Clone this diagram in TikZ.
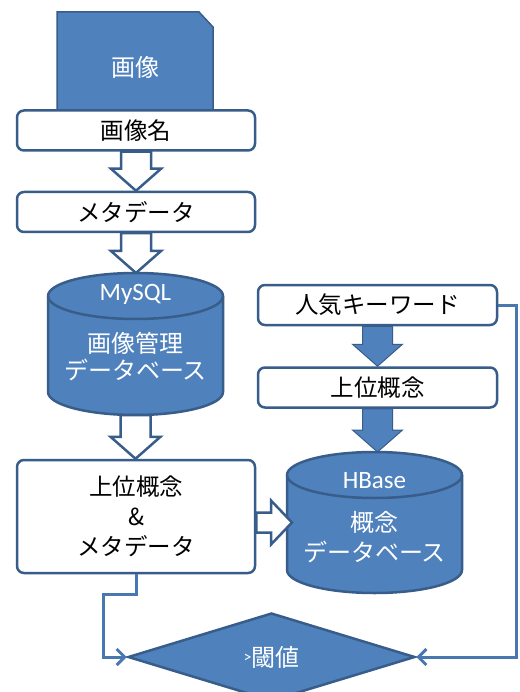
\documentclass[tikz,border=0pt]{standalone}
\usepackage{fontspec}
\setmainfont{Noto Sans CJK JP}
\newfontfamily\latinfont{Carlito}
\usetikzlibrary{shapes.geometric,calc,arrows.meta}

\definecolor{boxblue}{HTML}{4F81BD}
\definecolor{edgeblue}{HTML}{385D8A}

\tikzset{
    flow-box/.style = {draw=edgeblue, fill=white, line width=2.5pt, rectangle, rounded corners=7pt, minimum width=238pt, minimum height=40pt, inner sep=0pt, align=center, font=\fontsize{23.5}{30}\selectfont},
    white-text/.style = {text=white, align=center, font=\fontsize{24}{27}\selectfont},
    latin-text/.style = {text=white, font=\latinfont\fontsize{25}{25}\selectfont},
    db-body/.style = {fill=boxblue, draw=edgeblue, line width=2.5pt},
    db-edge/.style = {draw=edgeblue, line width=2.5pt},
    hollow-arrow/.style = {fill=white, draw=edgeblue, line width=2.5pt, line join=miter},
    solid-arrow/.style = {fill=boxblue, draw=edgeblue, line width=1pt, line join=miter},
    link-line/.style = {draw=boxblue!75!edgeblue, line width=3pt, -{Straight Barb[length=8pt,width=16pt]}},
}

% block arrow pointing down, from one anchor to another
\newcommand{\downblock}[3]{%
  \path[#1] let \p1=(#2), \p2=(#3) in
    (\x1-15pt,\y1) -- (\x1-15pt,\y2+22pt) -- (\x1-25pt,\y2+22pt) -- (\x1,\y2)
    -- (\x1+25pt,\y2+22pt) -- (\x1+15pt,\y2+22pt) -- (\x1+15pt,\y1) -- cycle;}
% block arrow pointing right
\newcommand{\rightblock}[3]{%
  \path[#1] let \p1=(#2), \p2=(#3) in
    (\x1,\y2+10pt) -- (\x2-21pt,\y2+10pt) -- (\x2-21pt,\y2+22pt) -- (\x2,\y2)
    -- (\x2-21pt,\y2-22pt) -- (\x2-21pt,\y2-10pt) -- (\x1,\y2-10pt) -- cycle;}
% database cylinder: name, centre x, top y, bottom y
\newcommand{\dbshape}[4]{%
  \path[db-body] (#2-87.5,#3+23) -- (#2-87.5,#4-23)
    arc[start angle=180, end angle=0, x radius=87.5, y radius=23]
    -- (#2+87.5,#3+23)
    arc[start angle=0, end angle=-180, x radius=87.5, y radius=23] -- cycle;
  \draw[db-edge] (#2-87.5,#3+23) arc[start angle=180, end angle=0, x radius=87.5, y radius=23];
  \coordinate (#1-top) at (#2,#3);
  \coordinate (#1-bottom) at (#2,#4);
  \coordinate (#1-west) at (#2-82.5,522.5);}

\begin{document}
\begin{tikzpicture}[x=1pt, y=-1pt]
\useasboundingbox[fill=white] (0,0) rectangle (519,692);

% left column
\path[db-body, line width=1.5pt] (57,122) -- (57,12) -- (199,12) -- (213,27) -- (213,122) -- cycle;
\node[white-text] (img) at (135,67) {画像};
\node[flow-box] (name) at (136,130.5) {画像名};
\node[flow-box] (meta) at (136,212) {メタデータ};

\dbshape{mysql}{135.5}{273}{415}
\node[latin-text] (mysql-label) at (135.5,294) {MySQL};
\node[white-text] (mysql-name) at (135.5,357) {画像管理\\データベース};

\node[flow-box, minimum height=113pt] (pair) at (136,516.5) {上位概念\\\&\\メタデータ};

% right column
\node[flow-box, minimum width=239pt] (keyword) at (377.5,305) {人気キーワード};
\node[flow-box, minimum width=239pt] (upper) at (377.5,387.5) {上位概念};

\dbshape{hbase}{374.5}{452}{593}
\node[latin-text] (hbase-label) at (374.5,481) {HBase};
\node[white-text, font=\fontsize{24}{30}\selectfont] (hbase-name) at (374.5,537) {概念\\データベース};

% threshold check
\node[diamond, aspect=3.26, fill=boxblue, draw=edgeblue, line width=2.5pt, minimum width=287pt, minimum height=88pt, inner sep=0pt, text=white, font=\fontsize{24}{24}\selectfont] (check) at (271.5,657) {\raisebox{4pt}{\latinfont\fontsize{16}{16}\selectfont >}閾値};

% block arrows
\downblock{hollow-arrow}{name.south}{meta.north}
\downblock{hollow-arrow}{meta.south}{mysql-top}
\downblock{hollow-arrow}{mysql-bottom}{pair.north}
\rightblock{hollow-arrow}{pair.east}{hbase-west}
\downblock{solid-arrow}{keyword.south}{upper.north}
\downblock{solid-arrow}{upper.south}{hbase-top}

% connectors to the check
\draw[link-line] (pair.south) |- (103,594) |- (check.west);
\draw[link-line] (keyword.east) -| (516,657) -- (check.east);
\end{tikzpicture}
\end{document}
